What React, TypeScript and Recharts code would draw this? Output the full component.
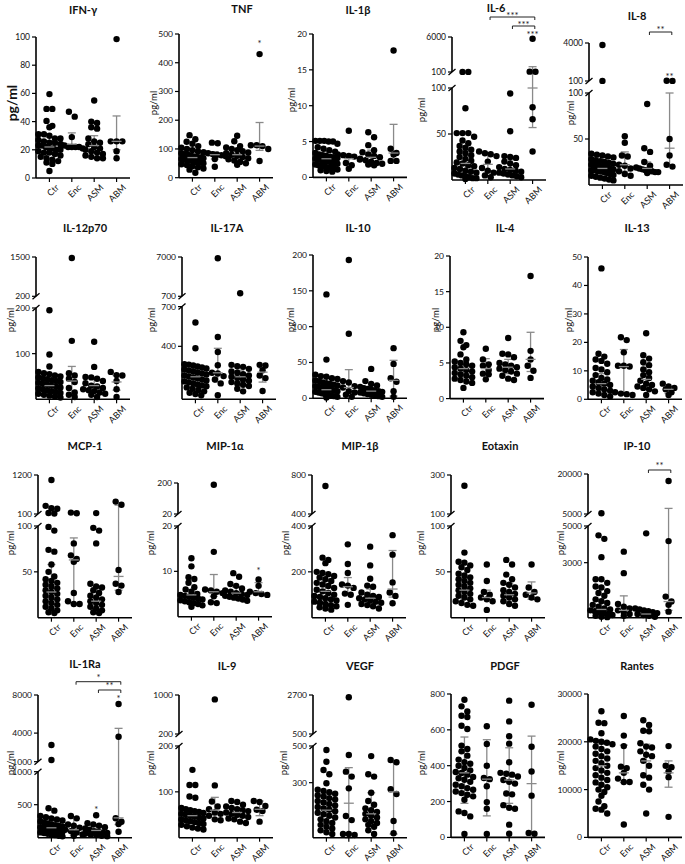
import React from "react";
import {
  ErrorBar,
  ReferenceDot,
  ReferenceLine,
  Scatter,
  ScatterChart,
  XAxis,
  YAxis,
} from "recharts";

const GROUPS = ["Ctr", "Enc", "ASM", "ABM"];
const FONT = "Lato, 'Open Sans', 'Liberation Sans', sans-serif";

// ---- data: one list per group (Ctr, Enc, ASM, ABM), bars = [low, centre, high]
const IFNG_VALUES = [
  [59.5, 49, 49, 40.5, 37, 36, 31, 31, 30, 28, 28, 27, 26, 25, 25, 24, 23, 23, 22, 21, 21, 20, 20, 19, 18, 18, 17, 16, 15, 14, 13, 12, 11, 10, 5],
  [47, 43.5, 29, 24, 23, 22, 22, 22, 22, 21],
  [55, 40, 39, 36, 35, 28, 26, 25, 24, 22, 21, 20, 19, 18, 17, 16, 15, 14, 14],
  [98.5, 26, 26, 26, 19, 14],
];
const IFNG_BARS = [[17, 22, 29], [22, 24, 32], [18, 23, 30], [20, 26, 44]];
const IFNG_TICKS = [[0, 20, 40, 60, 80, 100]];

const TNF_VALUES = [
  [148, 134, 125, 118, 110, 104, 100, 96, 92, 88, 85, 82, 80, 77, 74, 72, 70, 68, 65, 62, 60, 58, 55, 52, 50, 47, 44, 40, 36, 32, 28, 17],
  [122, 120, 88, 85, 82, 80, 78, 75, 65, 38],
  [146, 127, 110, 105, 100, 96, 92, 88, 85, 80, 76, 72, 68, 64, 60, 55, 50, 45],
  [430, 113, 113, 110, 100, 58],
];
const TNF_BARS = [[50, 70, 92], [65, 80, 90], [65, 80, 100], [95, 110, 192]];
const TNF_TICKS = [[0, 100, 200, 300, 400, 500]];

const IL1B_VALUES = [
  [5.1, 5.1, 5.1, 5.0, 5.0, 4.7, 4.2, 4.0, 3.8, 3.6, 3.4, 3.2, 3.1, 3.0, 2.9, 2.8, 2.7, 2.6, 2.5, 2.4, 2.3, 2.2, 2.1, 2.0, 1.9, 1.8, 1.7, 1.6, 1.5, 1.4, 1.3, 1.2, 1.1, 1.0, 0.9, 0.8],
  [6.5, 3.2, 3.1, 3.0, 2.9, 2.5, 2.0, 1.7, 1.2],
  [6.3, 5.6, 4.5, 3.8, 3.5, 3.2, 3.0, 2.8, 2.6, 2.4, 2.2, 2.0, 1.9, 1.8, 1.7],
  [17.7, 4.0, 3.4, 3.2, 2.3, 2.3],
];
const IL1B_BARS = [[1.8, 2.6, 3.6], [1.8, 2.6, 3.2], [2.0, 2.8, 3.8], [2.3, 3.4, 7.4]];
const IL1B_TICKS = [[0, 5, 10, 15, 20]];

const IL6_VALUES = [
  [120, 115, 78, 51, 51, 51, 47, 43, 40, 37, 35, 33, 31, 29, 27, 25, 23, 21, 19, 18, 16, 15, 13, 12, 10, 9, 8, 7, 6, 5, 4, 3, 2, 2, 1],
  [31, 29, 28, 26, 20, 13, 10, 8, 5, 3],
  [94, 53, 26, 25, 24, 20, 18, 16, 14, 12, 11, 10, 9, 8, 7, 6, 5, 4, 3],
  [5700, 160, 130, 79, 66, 31],
];
const IL6_BARS = [[6, 18, 32], [10, 17, 27], [6, 12, 22], [57, 100, 995]];
const IL6_TICKS = [[50, 100], [100, 6000]];

const IL8_VALUES = [
  [3800, 110, 34, 33, 32, 31, 30, 28, 27, 26, 25, 24, 23, 22, 22, 21, 21, 20, 20, 19, 19, 18, 18, 17, 17, 16, 16, 15, 15, 14, 13, 12, 11, 10, 9, 8, 7, 6, 5],
  [53, 46, 32, 31, 22, 21, 18, 15, 12, 10],
  [88, 40, 36, 25, 21, 19, 18, 17, 16, 15, 15, 14, 14, 13],
  [120, 110, 50, 32, 22, 20],
];
const IL8_BARS = [[12, 18, 24], [15, 22, 36], [15, 18, 25], [22, 40, 100]];
const IL8_TICKS = [[50, 100], [100, 4000]];

const IL12_VALUES = [
  [195, 98, 72, 60, 57, 55, 52, 50, 48, 46, 44, 42, 40, 38, 36, 34, 32, 30, 28, 26, 24, 22, 20, 18, 16, 14, 12, 10, 8, 6, 4],
  [1467, 128, 57, 52, 45, 38, 25, 15, 10, 5],
  [126, 71, 49, 48, 45, 40, 35, 30, 28, 25, 22, 20, 18, 15, 12, 10, 5],
  [60, 53, 52, 40, 22, 5],
];
const IL12_BARS = [[18, 30, 45], [15, 40, 72], [18, 30, 45], [20, 38, 52]];
const IL12_TICKS = [[100, 200], [200, 1500]];

const IL17_VALUES = [
  [580, 385, 265, 262, 255, 248, 240, 232, 225, 218, 210, 203, 196, 188, 180, 172, 165, 158, 150, 142, 135, 128, 120, 112, 105, 98, 90, 80, 70, 60, 50, 40, 30],
  [6800, 470, 357, 257, 200, 195, 175, 150, 120, 30],
  [1200, 260, 250, 245, 230, 210, 200, 190, 180, 170, 160, 150, 140, 130, 120, 110, 100, 80, 60],
  [260, 255, 219, 180, 160, 63],
];
const IL17_BARS = [[120, 170, 230], [130, 200, 385], [130, 170, 220], [130, 205, 235]];
const IL17_TICKS = [[400, 700], [700, 7000]];

const IL10_VALUES = [
  [145, 54, 33, 31, 30, 28, 27, 25, 24, 22, 21, 20, 19, 18, 17, 16, 15, 14, 13, 12, 11, 10, 9, 8, 7, 6, 5, 4, 3, 2, 1],
  [193, 90, 24, 22, 17, 15, 10, 8, 5, 2],
  [41, 24, 20, 18, 16, 14, 13, 12, 11, 10, 9, 8, 7, 6, 5, 4, 3, 2],
  [70, 48, 28, 23, 10, 2],
];
const IL10_BARS = [[6, 12, 22], [7, 15, 40], [5, 10, 15], [3, 25, 53]];
const IL10_TICKS = [[0, 50, 100, 150, 200]];

const IL4_VALUES = [
  [9.3, 8.1, 7.5, 7.2, 6.2, 5.5, 5.2, 5.0, 4.8, 4.6, 4.4, 4.2, 4.0, 3.8, 3.6, 3.4, 3.2, 3.0, 2.8, 2.6, 2.4, 2.2, 1.5],
  [7.0, 5.5, 4.8, 4.6, 4.0, 3.5, 3.4, 2.7],
  [8.5, 6.3, 6.2, 5.8, 5.0, 4.8, 4.6, 4.4, 4.2, 4.0, 3.8, 3.5, 3.2, 2.8, 2.6],
  [17.2, 6.7, 5.5, 4.6, 3.9, 2.9],
];
const IL4_BARS = [[3.2, 4.2, 5.2], [3.4, 4.2, 5.6], [3.5, 4.4, 5.5], [3.8, 5.5, 9.3]];
const IL4_TICKS = [[0, 5, 10, 15, 20]];

const IL13_VALUES = [
  [46, 16, 15, 14, 13.5, 12.5, 11, 10.5, 9.5, 8.5, 7.5, 7, 6.5, 6, 5.5, 5, 4.5, 4, 3.5, 3, 2.5, 2, 1.5, 1],
  [21.8, 20.8, 16.5, 11.8, 11.8, 11.5, 2.5, 2.0, 1.8, 1.5],
  [23.2, 15.5, 14.3, 13, 12, 10.5, 9.5, 8.5, 7.5, 6.5, 5.5, 5, 4.5, 4, 3.5, 2.8, 1.5],
  [5.5, 4.5, 4, 3.5, 2.5, 1.5],
];
const IL13_BARS = [[3, 5.5, 9], [1.8, 11.5, 17.5], [4, 7, 12], [2, 3.5, 4.5]];
const IL13_TICKS = [[0, 10, 20, 30, 40, 50]];

const MCP1_VALUES = [
  [1060, 330, 260, 250, 130, 115, 99, 95, 74, 72, 58, 50, 45, 42, 40, 38, 36, 34, 32, 30, 28, 26, 24, 22, 20, 18, 16, 14, 12, 10, 8, 6, 5],
  [140, 120, 81, 68, 64, 61, 27, 18, 15, 15],
  [125, 98, 95, 81, 37, 34, 33, 30, 27, 24, 22, 20, 18, 16, 14, 12, 10, 8, 6, 5],
  [450, 360, 52, 37, 35, 28],
];
const MCP1_BARS = [[15, 28, 58], [15, 63, 87], [8, 18, 30], [30, 45, 350]];
const MCP1_TICKS = [[50, 100], [100, 1200]];

const MIP1A_VALUES = [
  [12.9, 11.1, 8.7, 8.3, 7.5, 6.5, 6, 5.5, 5, 4.8, 4.6, 4.4, 4.2, 4, 3.8, 3.6, 3.4, 3.2, 3, 2.8, 2.5, 2.2],
  [190, 14.3, 6, 5.8, 5.5, 5.2, 4.5, 3.2, 3.0],
  [9.6, 8.8, 7.2, 6.8, 6.2, 5.8, 5.5, 5.2, 5, 4.8, 4.6, 4.4, 4.2, 4, 3.8, 3.5],
  [8.2, 6.8, 5.5, 5.2, 5.0, 4.8],
];
const MIP1A_BARS = [[3.5, 4.8, 6], [4.5, 5.5, 9.3], [4.3, 5.2, 6.5], [5, 5.5, 7.5]];
const MIP1A_TICKS = [[10, 20], [20, 200]];

const MIP1B_VALUES = [
  [687, 262, 252, 238, 200, 195, 190, 182, 175, 168, 160, 152, 145, 138, 130, 122, 115, 108, 100, 95, 90, 85, 80, 75, 70, 65, 60, 55, 50, 45, 40, 35],
  [320, 234, 195, 145, 140, 130, 105, 100, 56],
  [310, 228, 170, 140, 135, 110, 100, 95, 90, 85, 80, 75, 70, 65, 60, 55, 50, 40],
  [360, 275, 154, 110, 95, 63],
];
const MIP1B_BARS = [[80, 115, 165], [100, 135, 175], [60, 85, 125], [90, 125, 293]];
const MIP1B_TICKS = [[200, 400], [400, 800]];

const EOTAXIN_VALUES = [
  [245, 71, 61, 60, 57, 55, 52, 48, 46, 44, 42, 40, 38, 36, 34, 32, 30, 28, 26, 24, 22, 20, 18, 16, 14, 13],
  [58, 40, 28, 25, 22, 20, 18, 8.5],
  [63, 58, 47, 42, 38, 36, 33, 30, 28, 26, 24, 22, 20, 18, 15, 13],
  [58, 33, 28, 25, 22, 20],
];
const EOTAXIN_BARS = [[20, 30, 43], [20, 22, 30], [18, 25, 37], [20, 27, 39]];
const EOTAXIN_TICKS = [[50, 100], [100, 300]];

const IP10_VALUES = [
  [5300, 4490, 4300, 3300, 2100, 2100, 1900, 1700, 1650, 1450, 1350, 1200, 1000, 900, 800, 700, 600, 500, 450, 400, 350, 300, 250, 200, 150, 100, 50, 30],
  [3600, 2430, 750, 600, 500, 400, 300, 200, 100],
  [4600, 500, 450, 400, 350, 300, 250, 200, 150, 100, 50],
  [17400, 4175, 1150, 880, 700, 330],
];
const IP10_BARS = [[200, 450, 900], [0, 400, 1190], [100, 200, 400], [400, 880, 7100]];
const IP10_TICKS = [[3000, 5000], [5000, 20000]];

const IL1RA_VALUES = [
  [2750, 1180, 445, 410, 330, 310, 290, 275, 260, 245, 230, 215, 200, 190, 180, 170, 160, 150, 140, 130, 120, 110, 100, 90, 80, 70, 60, 50, 40, 30, 20],
  [329, 293, 200, 180, 150, 120, 100, 80, 50, 30],
  [340, 218, 200, 180, 160, 140, 120, 100, 90, 80, 70, 60, 50, 40, 30, 20],
  [7050, 3620, 294, 242, 207, 91],
];
const IL1RA_BARS = [[80, 150, 250], [40, 120, 290], [60, 110, 200], [200, 300, 4500]];
const IL1RA_TICKS = [[500, 1000], [1000, 4000, 8000]];

const IL9_VALUES = [
  [148, 115, 115, 90, 87, 65, 62, 60, 58, 56, 54, 52, 50, 48, 46, 44, 42, 40, 38, 36, 34, 32, 30, 28, 25, 22, 20, 18],
  [910, 114, 79, 68, 62, 55, 52, 48, 40, 38],
  [80, 78, 72, 68, 65, 62, 60, 58, 55, 52, 50, 48, 45, 42, 40, 35, 32],
  [80, 78, 69, 61, 58, 35],
];
const IL9_BARS = [[35, 48, 62], [50, 60, 88], [45, 55, 65], [48, 62, 80]];
const IL9_TICKS = [[100, 200], [200, 1000]];

const VEGF_VALUES = [
  [478, 414, 369, 346, 297, 262, 255, 248, 240, 232, 224, 216, 208, 200, 192, 184, 176, 168, 160, 152, 144, 136, 128, 120, 110, 100, 90, 80, 70, 60, 50, 40, 30, 20],
  [2570, 451, 360, 333, 269, 118, 96, 20, 20, 15],
  [445, 346, 333, 245, 200, 180, 160, 150, 140, 130, 120, 110, 100, 90, 80, 70, 60, 40, 20],
  [424, 411, 264, 238, 91, 24],
];
const VEGF_BARS = [[80, 150, 240], [0, 188, 382], [60, 130, 245], [20, 250, 410]];
const VEGF_TICKS = [[300, 500], [500, 2700]];

const PDGF_VALUES = [
  [768, 731, 703, 679, 672, 623, 605, 512, 493, 480, 456, 434, 420, 411, 400, 387, 374, 365, 359, 350, 337, 330, 322, 310, 294, 285, 275, 266, 256, 247, 238, 229, 210, 145, 136, 117, 19],
  [620, 521, 400, 331, 325, 285, 197, 160, 19],
  [763, 647, 564, 523, 419, 360, 355, 350, 340, 320, 310, 300, 245, 240, 180, 165, 160, 71, 20],
  [740, 506, 368, 233, 20, 25],
];
const PDGF_BARS = [[190, 360, 560], [120, 325, 545], [190, 320, 500], [20, 300, 565]];
const PDGF_TICKS = [[0, 200, 400, 600, 800]];

const RANTES_VALUES = [
  [26400, 24000, 23900, 21800, 20500, 20200, 20000, 19800, 19500, 19000, 18500, 18000, 17500, 17000, 16500, 16000, 15500, 15000, 14500, 14000, 13500, 13000, 12500, 12000, 11500, 11000, 10500, 10000, 9500, 8700, 7500, 6500, 6000, 5800, 5000],
  [25400, 21300, 19100, 14800, 14500, 13500, 12300, 11600, 11600, 2700],
  [24500, 23500, 22300, 22200, 19700, 19000, 18800, 18000, 17300, 17000, 16000, 15000, 13000, 12500, 11000, 10000, 5000],
  [19100, 15000, 14700, 13800, 12600, 4300],
];
const RANTES_BARS = [[11000, 15000, 19500], [11500, 13500, 19300], [12500, 16000, 19500], [10500, 13500, 16000]];
const RANTES_TICKS = [[0, 10000, 20000, 30000]];

// ---- layout
// seg = [valueFrom, valueTo, pxFrom, pxTo], px measured up from the x axis
type Seg = [number, number, number, number];
type Bracket = { g0: number; g1: number; y: number; ty: number; text: string };
type Star = { g: number; y: number; text: string };
type Panel = {
  title: string;
  values: number[][];
  bars: number[][];
  ticks: number[][];
  segs: Seg[];
  axisX: number;
  top: number;
  bottom: number;
  titleX: number;
  titleY: number;
  labelX: number;
  labelY: number;
  big?: boolean;
  stars?: Star[];
  brackets?: Bracket[];
};

const PLOT_W = 94;
const X_DOMAIN: [number, number] = [-0.6, 3.6];
const PX_PER_X = PLOT_W / (X_DOMAIN[1] - X_DOMAIN[0]);
const MARGIN_L = 40;
const MARGIN_T = 40;
const MARGIN_B = 42;
const DOT_R = 3.2;
const AXIS_W = 1.6;
const BAR_COLOR = "#8a8a8a";

const PANELS: Panel[] = [
  { title: "IFN-γ", values: IFNG_VALUES, bars: IFNG_BARS, ticks: IFNG_TICKS, segs: [[0, 100, 0, 141]], axisX: 36, top: 37, bottom: 178, titleX: 83, titleY: 9, labelX: 11, labelY: 103, big: true },
  { title: "TNF", values: TNF_VALUES, bars: TNF_BARS, ticks: TNF_TICKS, segs: [[0, 500, 0, 143.7]], axisX: 179, top: 34.3, bottom: 178, titleX: 242, titleY: 8, labelX: 153, labelY: 103, stars: [{ g: 3, y: 135, text: "*" }] },
  { title: "IL-1β", values: IL1B_VALUES, bars: IL1B_BARS, ticks: IL1B_TICKS, segs: [[0, 20, 0, 143.4]], axisX: 313, top: 34.3, bottom: 177.7, titleX: 358, titleY: 9, labelX: 291.7, labelY: 100 },
  {
    title: "IL-6", values: IL6_VALUES, bars: IL6_BARS, ticks: IL6_TICKS, segs: [[0, 100, 0, 92], [100, 6000, 108, 143]], axisX: 452, top: 37, bottom: 180, titleX: 496, titleY: 7, labelX: 421.7, labelY: 110,
    stars: [{ g: 3, y: 146.7, text: "***" }],
    brackets: [{ g0: 1, g1: 3, y: 163, ty: 165.5, text: "***" }, { g0: 2, g1: 3, y: 154, ty: 156.5, text: "***" }],
  },
  {
    title: "IL-8", values: IL8_VALUES, bars: IL8_BARS, ticks: IL8_TICKS, segs: [[0, 100, 0, 92], [100, 4000, 104, 142]], axisX: 589, top: 43, bottom: 185, titleX: 637, titleY: 15, labelX: 570, labelY: 113,
    stars: [{ g: 3, y: 110, text: "**" }],
    brackets: [{ g0: 2, g1: 3, y: 153, ty: 157, text: "**" }],
  },
  { title: "IL-12p70", values: IL12_VALUES, bars: IL12_BARS, ticks: IL12_TICKS, segs: [[0, 200, 0, 91.3], [200, 1500, 103, 142.3]], axisX: 36, top: 256.7, bottom: 399, titleX: 85, titleY: 227, labelX: 10, labelY: 320 },
  { title: "IL-17A", values: IL17_VALUES, bars: IL17_BARS, ticks: IL17_TICKS, segs: [[0, 700, 0, 92.7], [700, 7000, 103, 142.3]], axisX: 182, top: 256.7, bottom: 399, titleX: 227, titleY: 227, labelX: 151.7, labelY: 320 },
  { title: "IL-10", values: IL10_VALUES, bars: IL10_BARS, ticks: IL10_TICKS, segs: [[0, 200, 0, 143.3]], axisX: 313, top: 255, bottom: 398.3, titleX: 358, titleY: 227, labelX: 290, labelY: 320 },
  { title: "IL-4", values: IL4_VALUES, bars: IL4_BARS, ticks: IL4_TICKS, segs: [[0, 20, 0, 142.6]], axisX: 450, top: 255.7, bottom: 398.3, titleX: 505, titleY: 227, labelX: 435, labelY: 320 },
  { title: "IL-13", values: IL13_VALUES, bars: IL13_BARS, ticks: IL13_TICKS, segs: [[0, 50, 0, 142.3]], axisX: 588, top: 256.7, bottom: 399, titleX: 637, titleY: 227, labelX: 568, labelY: 320 },
  { title: "MCP-1", values: MCP1_VALUES, bars: MCP1_BARS, ticks: MCP1_TICKS, segs: [[0, 100, 0, 91.7], [100, 1200, 103.7, 142.7]], axisX: 37.7, top: 475, bottom: 617.7, titleX: 85, titleY: 445, labelX: 10, labelY: 543 },
  { title: "MIP-1α", values: MIP1A_VALUES, bars: MIP1A_BARS, ticks: MIP1A_TICKS, segs: [[0, 20, 0, 90.7], [20, 200, 102.7, 133.7]], axisX: 178.3, top: 483, bottom: 616.7, titleX: 225, titleY: 445, labelX: 150, labelY: 543, stars: [{ g: 3, y: 46.7, text: "*" }] },
  { title: "MIP-1β", values: MIP1B_VALUES, bars: MIP1B_BARS, ticks: MIP1B_TICKS, segs: [[0, 400, 0, 91.7], [400, 800, 103.7, 142.7]], axisX: 312.3, top: 475, bottom: 617.7, titleX: 360, titleY: 445, labelX: 285, labelY: 543 },
  { title: "Eotaxin", values: EOTAXIN_VALUES, bars: EOTAXIN_BARS, ticks: EOTAXIN_TICKS, segs: [[0, 100, 0, 91.7], [100, 300, 103.7, 142.7]], axisX: 451, top: 475, bottom: 617.7, titleX: 500, titleY: 445, labelX: 420, labelY: 543 },
  {
    title: "IP-10", values: IP10_VALUES, bars: IP10_BARS, ticks: IP10_TICKS, segs: [[0, 5000, 0, 91.7], [5000, 20000, 103.7, 143.7]], axisX: 588.3, top: 474, bottom: 617.7, titleX: 637, titleY: 445, labelX: 560, labelY: 543,
    brackets: [{ g0: 2, g1: 3, y: 147.7, ty: 152.7, text: "**" }],
  },
  {
    title: "IL-1Ra", values: IL1RA_VALUES, bars: IL1RA_BARS, ticks: IL1RA_TICKS, segs: [[0, 1000, 0, 66], [1000, 8000, 76, 142.7]], axisX: 37.7, top: 695, bottom: 837.7, titleX: 85, titleY: 663, labelX: 10, labelY: 763,
    stars: [{ g: 3, y: 140.4, text: "*" }, { g: 2, y: 29.4, text: "*" }],
    brackets: [{ g0: 1, g1: 3, y: 156, ty: 161.5, text: "*" }, { g0: 2, g1: 3, y: 147.7, ty: 152.7, text: "**" }],
  },
  { title: "IL-9", values: IL9_VALUES, bars: IL9_BARS, ticks: IL9_TICKS, segs: [[0, 200, 0, 91.7], [200, 1000, 103.7, 142.7]], axisX: 179, top: 695, bottom: 837.7, titleX: 227, titleY: 665, labelX: 150.7, labelY: 763 },
  { title: "VEGF", values: VEGF_VALUES, bars: VEGF_BARS, ticks: VEGF_TICKS, segs: [[0, 500, 0, 91.7], [500, 2700, 103.7, 142.7]], axisX: 312.7, top: 695, bottom: 837.7, titleX: 360, titleY: 665, labelX: 283, labelY: 763 },
  { title: "PDGF", values: PDGF_VALUES, bars: PDGF_BARS, ticks: PDGF_TICKS, segs: [[0, 800, 0, 143.4]], axisX: 451, top: 694.3, bottom: 837.7, titleX: 505, titleY: 665, labelX: 421.7, labelY: 763 },
  { title: "Rantes", values: RANTES_VALUES, bars: RANTES_BARS, ticks: RANTES_TICKS, segs: [[0, 30000, 0, 143.4]], axisX: 588.3, top: 694.3, bottom: 837.7, titleX: 637, titleY: 665, labelX: 560, labelY: 763 },
];

// piecewise (broken axis) value -> px above x axis
function toPx(segs: Seg[], v: number): number {
  for (let i = 0; i < segs.length; i++) {
    const [v0, v1, p0, p1] = segs[i];
    if (v <= v1 || i === segs.length - 1) return p0 + ((v - v0) / (v1 - v0)) * (p1 - p0);
  }
  return 0;
}

// rows of dots centred on the group, like a prism scatter plot
function swarm(pxs: number[], g: number) {
  const sorted = [...pxs].sort((a, b) => b - a);
  const out: { x: number; y: number }[] = [];
  let row: number[] = [];
  const flush = () => {
    const n = row.length;
    const step = n > 1 ? Math.min(5.8, 22 / (n - 1)) : 0;
    row.forEach((y, i) => {
      const dx = (i - (n - 1) / 2) * step;
      out.push({ x: g + dx / PX_PER_X, y });
    });
    row = [];
  };
  for (const y of sorted) {
    if (row.length && row[0] - y > DOT_R * 1.6) flush();
    row.push(y);
  }
  if (row.length) flush();
  return out;
}

function DotShape(props: any) {
  return <circle cx={props.cx} cy={props.cy} r={DOT_R} fill="#000" />;
}

function MidShape(props: any) {
  return (
    <line x1={props.cx - 5} x2={props.cx + 5} y1={props.cy} y2={props.cy} stroke={BAR_COLOR} strokeWidth={1.3} />
  );
}

function textShape(text: string) {
  return (props: any) => (
    <text x={props.cx} y={props.cy + 4.5} textAnchor="middle" fontSize={9.5} fontFamily={FONT} fill="#222">
      {text}
    </text>
  );
}

function GroupTick(props: any) {
  const { x, y, payload } = props;
  const ax = x + 5;
  const ay = y - 1;
  return (
    <text
      x={ax}
      y={ay}
      textAnchor="end"
      dominantBaseline="hanging"
      transform={`rotate(-45 ${ax} ${ay})`}
      fontSize={9}
      fontFamily={FONT}
      fill="#111"
    >
      {GROUPS[payload.value] ?? ""}
    </text>
  );
}

function PanelChart({ p }: { p: Panel }) {
  const h = p.bottom - p.top;
  const dots = p.values.flatMap((vals, g) => swarm(vals.map((v) => toPx(p.segs, v)), g));
  const bars = p.bars.map(([lo, mid, hi], g) => {
    const m = toPx(p.segs, mid);
    return { x: g, y: m, err: [m - toPx(p.segs, lo), toPx(p.segs, hi) - m] };
  });

  const tickPx: number[] = [];
  const tickText = new Map<number, string>();
  p.ticks.forEach((list, i) => {
    const [v0, v1, p0, p1] = p.segs[i];
    list.forEach((t) => {
      const px = Math.round((p0 + ((t - v0) / (v1 - v0)) * (p1 - p0)) * 100) / 100;
      tickPx.push(px);
      tickText.set(px, String(t));
    });
  });

  const broken = p.segs.length > 1;
  const x0 = X_DOMAIN[0];
  const sx = 3.5 / PX_PER_X;
  const axis = { stroke: "#000", strokeWidth: AXIS_W };

  const lines: { seg: { x: number; y: number }[]; stroke: string; w: number }[] = [];
  if (broken) {
    const low = p.segs[0];
    const up = p.segs[1];
    lines.push({ seg: [{ x: x0, y: 0 }, { x: x0, y: low[3] }], stroke: "#000", w: AXIS_W });
    lines.push({ seg: [{ x: x0, y: up[2] }, { x: x0, y: up[3] }], stroke: "#000", w: AXIS_W });
    lines.push({ seg: [{ x: x0 - sx, y: low[3] - 3 }, { x: x0 + sx, y: low[3] + 3 }], stroke: "#000", w: 1.3 });
    lines.push({ seg: [{ x: x0 - sx, y: up[2] - 3 }, { x: x0 + sx, y: up[2] + 3 }], stroke: "#000", w: 1.3 });
  }
  (p.brackets ?? []).forEach((b) => {
    const a = b.g0 + 0.1;
    const c = b.g1 + 0.1;
    lines.push({ seg: [{ x: a, y: b.y }, { x: c, y: b.y }], stroke: "#222", w: 1 });
    lines.push({ seg: [{ x: a, y: b.y }, { x: a, y: b.y - 3 }], stroke: "#222", w: 1 });
    lines.push({ seg: [{ x: c, y: b.y }, { x: c, y: b.y - 3 }], stroke: "#222", w: 1 });
  });

  const labels: { x: number; y: number; text: string }[] = [
    ...(p.stars ?? []).map((s) => ({ x: s.g, y: s.y, text: s.text })),
    ...(p.brackets ?? []).map((b) => ({ x: (b.g0 + b.g1) / 2 + 0.1, y: b.ty, text: b.text })),
  ];

  return (
    <div style={{ position: "absolute", left: p.axisX - MARGIN_L, top: p.top - MARGIN_T }}>
      <ScatterChart
        width={MARGIN_L + PLOT_W + 6}
        height={MARGIN_T + h + MARGIN_B}
        margin={{ top: MARGIN_T, right: 6, bottom: 0, left: 0 }}
      >
        <XAxis
          type="number"
          dataKey="x"
          domain={X_DOMAIN}
          ticks={[0, 1, 2, 3]}
          interval={0}
          height={MARGIN_B}
          axisLine={axis}
          tickLine={{ stroke: "#000", strokeWidth: 1.2 }}
          tickSize={4}
          tick={<GroupTick />}
        />
        <YAxis
          type="number"
          dataKey="y"
          domain={[0, h]}
          ticks={tickPx}
          interval={0}
          width={MARGIN_L}
          axisLine={broken ? false : axis}
          tickLine={{ stroke: "#000", strokeWidth: 1.2 }}
          tickSize={4}
          tickMargin={2}
          tickFormatter={(v: number) => tickText.get(v) ?? ""}
          tick={{ fontSize: 8.5, fill: "#111", fontFamily: FONT }}
        />
        <Scatter data={dots} shape={DotShape} isAnimationActive={false} />
        <Scatter data={bars} shape={MidShape} isAnimationActive={false}>
          <ErrorBar dataKey="err" direction="y" width={4} stroke={BAR_COLOR} strokeWidth={1.3} />
        </Scatter>
        {lines.map((l, i) => (
          <ReferenceLine key={`l${i}`} segment={l.seg} stroke={l.stroke} strokeWidth={l.w} ifOverflow="visible" />
        ))}
        {labels.map((s, i) => (
          <ReferenceDot key={`s${i}`} x={s.x} y={s.y} ifOverflow="visible" shape={textShape(s.text)} />
        ))}
      </ScatterChart>
    </div>
  );
}

export default function App() {
  return (
    <div
      style={{
        position: "absolute",
        left: 0,
        top: 0,
        width: 685,
        height: 864,
        background: "#fff",
        fontFamily: FONT,
        overflow: "hidden",
      }}
    >
      {PANELS.map((p) => (
        <PanelChart key={p.title} p={p} />
      ))}
      <svg width={685} height={864} style={{ position: "absolute", left: 0, top: 0, pointerEvents: "none" }}>
        {PANELS.map((p) => (
          <g key={p.title} fontFamily={FONT} fill="#111">
            <text x={p.titleX} y={p.titleY} textAnchor="middle" dominantBaseline="central" fontSize={11} fontWeight={700}>
              {p.title}
            </text>
            <text
              transform={`translate(${p.labelX} ${p.labelY}) rotate(-90)`}
              textAnchor="middle"
              dominantBaseline="central"
              fontSize={p.big ? 14 : 9.5}
              fontWeight={p.big ? 700 : 400}
            >
              pg/ml
            </text>
          </g>
        ))}
      </svg>
    </div>
  );
}
